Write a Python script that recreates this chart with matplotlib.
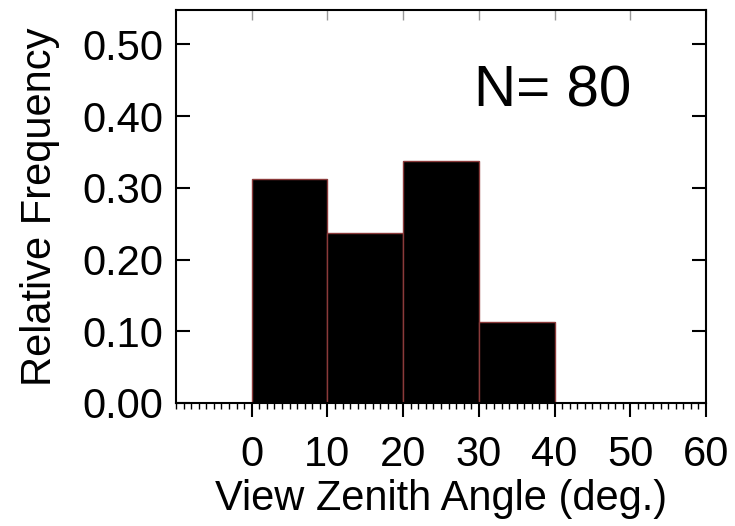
import matplotlib
matplotlib.use("Agg")
from matplotlib import pyplot as plt
from matplotlib.ticker import MultipleLocator

plt.rcParams['font.family'] = ['Liberation Sans', 'DejaVu Sans']

# histogram of view zenith angle, N = 80
bin_left = [0, 10, 20, 30]
bin_width = 10
rel_freq = [0.3125, 0.2375, 0.3375, 0.1125]
n_total = 80

x_ticks = [0, 10, 20, 30, 40, 50, 60]
y_ticks = [0.0, 0.1, 0.2, 0.3, 0.4, 0.5]
y_labels = ["0.00", "0.10", "0.20", "0.30", "0.40", "0.50"]

fig = plt.figure(figsize=(7.35, 5.26), dpi=100)
ax = fig.add_axes([0.2395, 0.234, 0.721, 0.747])

ax.bar(bin_left, rel_freq, width=bin_width, align="edge",
       color="black", edgecolor="#8a3a3a", linewidth=1.0)

ax.set_xlim(-10, 60)
ax.set_ylim(0, 0.548)

ax.set_xticks(x_ticks)
ax.set_yticks(y_ticks)
ax.set_yticklabels(y_labels)
ax.xaxis.set_minor_locator(MultipleLocator(1))

for s in ax.spines.values():
    s.set_linewidth(1.5)

ax.tick_params(axis="x", which="major", direction="out", length=10, width=1.5,
               labelsize=30, pad=13, top=False)
ax.tick_params(axis="x", which="minor", direction="out", length=4, width=1.0, top=False)
ax.tick_params(axis="y", which="major", direction="in", length=10, width=1.5,
               labelsize=30, right=True, pad=9)

# top axis: major ticks only, pointing in
top = ax.secondary_xaxis("top")
top.set_xticks(x_ticks)
top.tick_params(direction="in", length=7, width=1.0, color="#999999", labeltop=False)
top.spines["top"].set_visible(False)

ax.set_xlabel("View Zenith Angle (deg.)", fontsize=30, labelpad=3)
ax.set_ylabel("Relative Frequency", fontsize=30, labelpad=16)

ax.text(29.4, 0.434, "N= %d" % n_total, fontsize=42, va="center", ha="left")

fig.savefig("out.png", dpi=100)
